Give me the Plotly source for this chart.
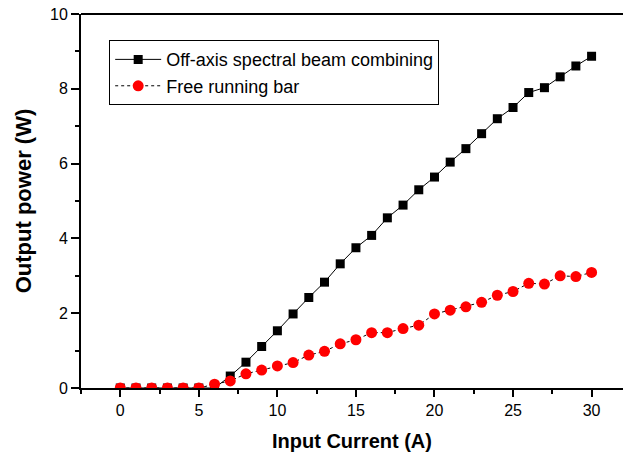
import plotly.graph_objects as go

current = list(range(0, 31))
sbc_power = [0, 0, 0, 0, 0, 0, 0, 0.32, 0.69, 1.11, 1.53, 1.98, 2.42, 2.83, 3.32,
             3.75, 4.08, 4.55, 4.89, 5.30, 5.64, 6.04, 6.40, 6.80, 7.20, 7.50,
             7.90, 8.03, 8.32, 8.61, 8.87]
free_power = [0, 0, 0, 0, 0, 0, 0.10, 0.19, 0.38, 0.48, 0.59, 0.68, 0.88, 0.98, 1.18,
              1.29, 1.48, 1.48, 1.59, 1.68, 1.98, 2.08, 2.17, 2.29, 2.48, 2.58,
              2.80, 2.78, 3.00, 2.98, 3.09]
x_ticks = [0, 5, 10, 15, 20, 25, 30]
y_ticks = [0, 2, 4, 6, 8, 10]

FONT = "Liberation Sans"

fig = go.Figure()
fig.add_trace(go.Scatter(
    x=current, y=sbc_power, mode="lines+markers",
    name="Off-axis spectral beam combining",
    line=dict(color="black", width=1),
    marker=dict(symbol="square", size=9, color="black"),
))
fig.add_trace(go.Scatter(
    x=current, y=free_power, mode="lines+markers",
    name="Free running bar",
    line=dict(color="black", width=1, dash="dot"),
    marker=dict(symbol="circle", size=11, color="#ff0000"),
))

fig.update_layout(
    width=623, height=458,
    margin=dict(l=81, r=0, t=14, b=70, autoexpand=False),
    paper_bgcolor="white", plot_bgcolor="white",
    font=dict(family=FONT, color="black", size=16),
    showlegend=True,
    legend=dict(
        x=0.052, y=0.93, xanchor="left", yanchor="top",
        bgcolor="white", bordercolor="black", borderwidth=1,
        font=dict(family=FONT, size=18, color="black"),
        tracegroupgap=0, itemwidth=46,
    ),
    xaxis=dict(
        range=[-2.5, 32], tickvals=x_ticks, showgrid=False, zeroline=False,
        showline=True, linecolor="black", linewidth=2, automargin=False,
        ticks="outside", ticklen=7, tickwidth=2, tickcolor="black",
        minor=dict(dtick=2.5, ticks="outside", ticklen=4, tickwidth=2, tickcolor="black", showgrid=False),
        tickfont=dict(family=FONT, size=16),
        title=dict(text="<b>Input Current (A)</b>", font=dict(family=FONT, size=20), standoff=16),
    ),
    yaxis=dict(
        range=[0, 10], tickvals=y_ticks, showgrid=False, zeroline=False,
        showline=True, linecolor="black", linewidth=2, automargin=False,
        ticks="outside", ticklen=8, tickwidth=2, tickcolor="black",
        ticklabeloverflow="allow",
        minor=dict(dtick=1, ticks="outside", ticklen=4, tickwidth=2, tickcolor="black", showgrid=False),
        tickfont=dict(family=FONT, size=16),
        title=dict(text="<b>Output power (W)</b>", font=dict(family=FONT, size=22), standoff=12),
    ),
    shapes=[dict(type="line", xref="paper", yref="paper", x0=0, x1=1, y0=1, y1=1,
                 line=dict(color="black", width=2))],
)

fig.write_html("out.html", config={"displayModeBar": False},
               post_script="document.body.style.margin='0';")
